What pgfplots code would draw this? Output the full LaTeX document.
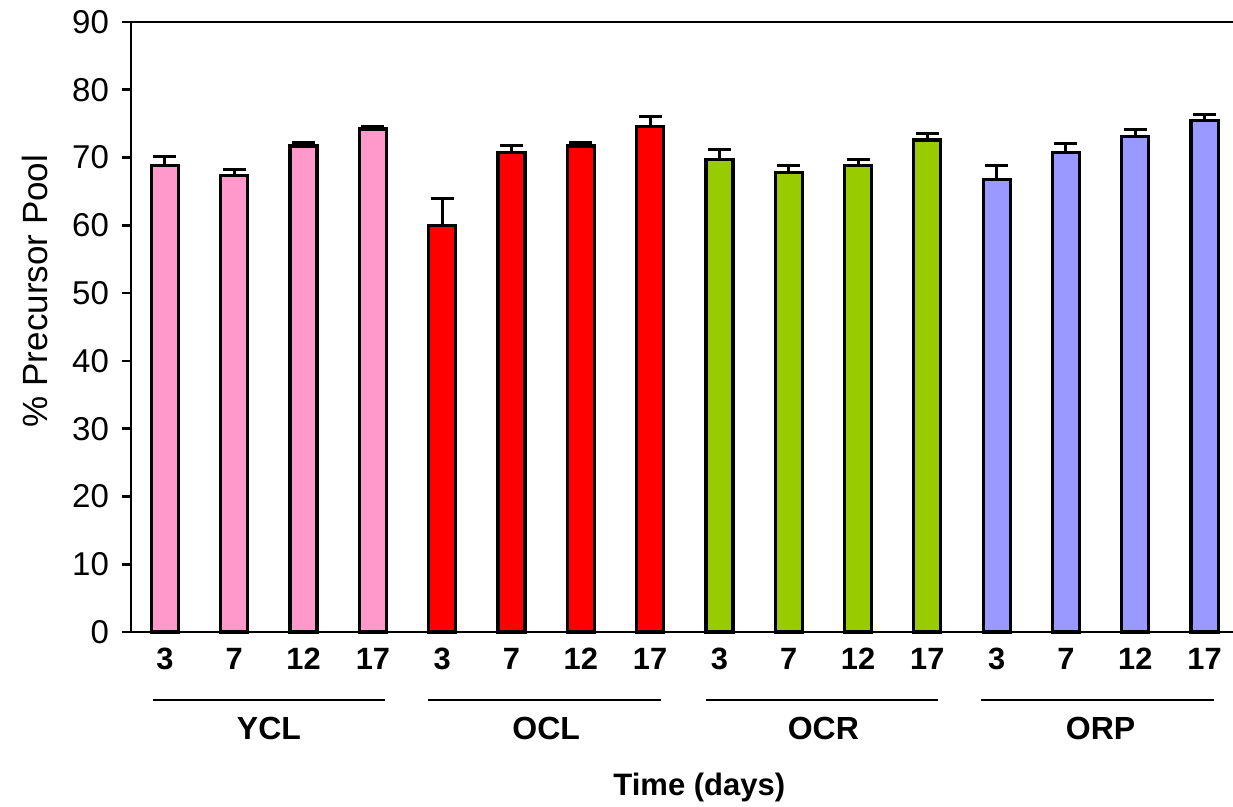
\documentclass[border=0pt]{standalone}
\usepackage{pgfplots}
\pgfplotsset{compat=1.18}
\usepackage{fontspec}
\setmainfont{Liberation Sans}
\definecolor{cpink}{HTML}{FF99CC}
\definecolor{cred}{HTML}{FF0000}
\definecolor{cgreen}{HTML}{99CC00}
\definecolor{cblue}{HTML}{9999FF}
\begin{document}
\begin{tikzpicture}
\path[use as bounding box] (-65.5pt,-87.5pt) rectangle (551pt,316pt);
\begin{axis}[
  at={(0,0)}, anchor=south west,
  scale only axis, width=551pt, height=305pt,
  xmin=-0.49, xmax=15.41, ymin=0, ymax=90,
  clip=false,
  axis x line=bottom, axis y line=left,
  axis line style={-, line width=1.4pt, black},
  ybar,
  ytick={0,10,...,90},
  xtick={0,...,15},
  xticklabels={3,7,12,17,3,7,12,17,3,7,12,17,3,7,12,17},
  tick align=outside,
  major tick length=4.5pt,
  ytick style={line width=1.3pt, black},
  xtick style={draw=none},
  /pgf/number format/assume math mode=true,
  yticklabel style={font=\fontsize{16.5}{19}\selectfont, xshift=-3pt},
  xticklabel style={font=\bfseries\fontsize{15.4}{18}\selectfont},
  ylabel={\% Precursor Pool},
  ylabel style={at={(rel axis cs:-0.087,0.559)}, anchor=center, font=\fontsize{17.5}{20}\selectfont},
  error bars/y dir=plus,
  error bars/y explicit,
  error bars/error bar style={line width=1.5pt, black},
  error bars/error mark options={rotate=90, mark size=5.75pt, line width=1.5pt, black},
]
\addplot[bar shift=0pt, bar width=0.39, fill=cpink, draw=black, line width=1.6pt]
  coordinates {(0,68.8) +- (0,1.4) (1,67.3) +- (0,1.0) (2,71.7) +- (0,0.5) (3,74.2) +- (0,0.4)};
\addplot[bar shift=0pt, bar width=0.39, fill=cred, draw=black, line width=1.6pt]
  coordinates {(4,60.0) +- (0,3.9) (5,70.8) +- (0,1.0) (6,71.7) +- (0,0.5) (7,74.6) +- (0,1.5)};
\addplot[bar shift=0pt, bar width=0.39, fill=cgreen, draw=black, line width=1.6pt]
  coordinates {(8,69.7) +- (0,1.5) (9,67.8) +- (0,1.0) (10,68.8) +- (0,0.9) (11,72.6) +- (0,1.0)};
\addplot[bar shift=0pt, bar width=0.39, fill=cblue, draw=black, line width=1.6pt]
  coordinates {(12,66.8) +- (0,2.0) (13,70.7) +- (0,1.4) (14,73.1) +- (0,1.0) (15,75.5) +- (0,0.9)};
\draw[line width=1.3pt, black] (rel axis cs:0,1) -- (rel axis cs:1,1);
\draw[line width=1.4pt] (axis cs:-0.17,-10.03) -- (axis cs:3.18,-10.03);
\draw[line width=1.4pt] (axis cs:3.8,-10.03) -- (axis cs:7.16,-10.03);
\draw[line width=1.4pt] (axis cs:7.8,-10.03) -- (axis cs:11.15,-10.03);
\draw[line width=1.4pt] (axis cs:11.78,-10.03) -- (axis cs:15.13,-10.03);
\node[font=\bfseries\fontsize{16}{19}\selectfont] at (axis cs:1.5,-14.2) {YCL};
\node[font=\bfseries\fontsize{16}{19}\selectfont] at (axis cs:5.5,-14.2) {OCL};
\node[font=\bfseries\fontsize{16}{19}\selectfont] at (axis cs:9.5,-14.2) {OCR};
\node[font=\bfseries\fontsize{16}{19}\selectfont] at (axis cs:13.5,-14.2) {ORP};
\node[font=\bfseries\fontsize{15.5}{18}\selectfont] at (axis cs:7.71,-22.9) {Time (days)};
\end{axis}
\end{tikzpicture}
\end{document}
